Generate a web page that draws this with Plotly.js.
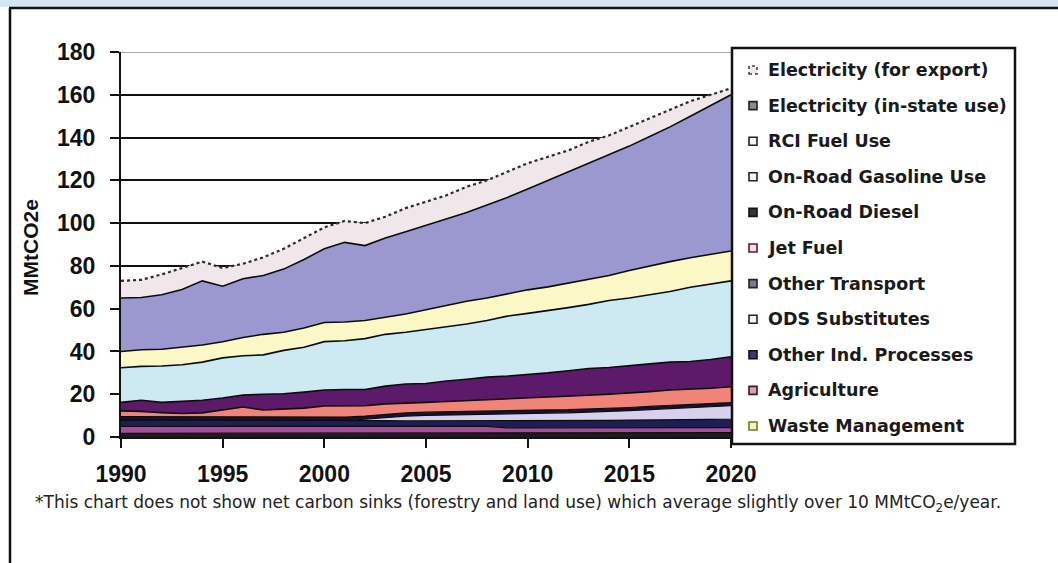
<!DOCTYPE html>
<html>
<head>
<meta charset="utf-8">
<script src="https://cdn.plot.ly/plotly-3.0.1.min.js"></script>
<style>
  html, body { margin: 0; padding: 0; background: #ffffff; }
  #chart { width: 1058px; height: 563px; }
</style>
</head>
<body>
<div id="chart"></div>
<script>
// Emissions by sector, MMtCO2e, 1990-2020 (stacked from the bottom up)
const years = [1990, 1991, 1992, 1993, 1994, 1995, 1996, 1997, 1998, 1999, 2000,
               2001, 2002, 2003, 2004, 2005, 2006, 2007, 2008, 2009, 2010,
               2011, 2012, 2013, 2014, 2015, 2016, 2017, 2018, 2019, 2020];

const wasteManagement = [1.7, 1.7, 1.7, 1.7, 1.7, 1.7, 1.7, 1.8, 1.8, 1.8, 1.8,
                         1.8, 1.8, 1.8, 1.8, 1.8, 1.8, 1.8, 1.8, 1.9, 1.9,
                         1.9, 1.9, 1.9, 1.9, 1.9, 1.9, 1.9, 2.0, 2.0, 2.0];
const agriculture = [3.2, 3.2, 3.2, 3.2, 3.2, 3.2, 3.2, 3.2, 3.2, 3.2, 3.2,
                     3.2, 3.2, 3.2, 3.2, 3.2, 3.2, 3.2, 3.2, 2.4, 2.4,
                     2.4, 2.4, 2.4, 2.4, 2.4, 2.4, 2.4, 2.4, 2.4, 2.4];
const otherIndProcesses = [3.1, 3.1, 3.1, 3.0, 3.0, 3.0, 3.0, 3.0, 2.9, 2.9, 2.8,
                           2.8, 2.7, 2.7, 2.6, 2.6, 2.6, 2.7, 2.8, 3.2, 3.3,
                           3.4, 3.4, 3.5, 3.5, 3.6, 3.6, 3.7, 3.7, 3.8, 3.9];
const odsSubstitutes = [0, 0, 0, 0, 0, 0, 0, 0, 0, 0, 0,
                        0, 0.6, 1.4, 2.2, 2.5, 2.7, 2.9, 3.1, 3.3, 3.4,
                        3.5, 3.6, 3.8, 4.0, 4.4, 4.9, 5.3, 5.6, 5.9, 6.3];
const otherTransport = [1.5, 1.5, 1.5, 1.5, 1.5, 1.5, 1.5, 1.5, 1.5, 1.5, 1.5,
                        1.5, 1.5, 1.5, 1.5, 1.5, 1.5, 1.5, 1.5, 1.5, 1.5,
                        1.5, 1.5, 1.5, 1.5, 1.5, 1.5, 1.5, 1.5, 1.5, 1.5];
const jetFuel = [2.7, 2.5, 1.9, 1.6, 1.9, 3.1, 4.6, 3.1, 3.6, 4.1, 5.2,
                 5.2, 4.8, 4.9, 4.7, 4.6, 4.8, 4.9, 4.9, 5.3, 5.5,
                 5.8, 6.2, 6.4, 6.7, 6.7, 6.9, 7.2, 7.1, 7.2, 7.4];
const onRoadDiesel = [4.0, 5.2, 4.8, 5.6, 5.9, 5.7, 5.6, 7.4, 7.2, 7.5, 7.5,
                      7.7, 7.6, 8.3, 8.8, 8.8, 9.6, 10.0, 10.7, 10.9, 11.2,
                      11.5, 12.0, 12.5, 12.5, 12.7, 13.0, 13.0, 13.0, 13.4, 14.0];
const onRoadGasoline = [16.2, 15.8, 17.0, 17.2, 17.8, 18.8, 18.4, 18.4, 20.3, 21.0, 22.6,
                        22.8, 23.8, 24.2, 24.2, 25.3, 25.4, 25.8, 26.5, 28.0, 28.6,
                        29.0, 29.5, 30.0, 31.3, 31.8, 32.3, 33.0, 34.7, 35.3, 35.5];
const rciFuelUse = [7.6, 7.8, 7.8, 8.2, 8.0, 7.5, 8.5, 9.6, 8.5, 9.0, 8.9,
                    8.8, 8.5, 8.0, 8.5, 9.2, 9.9, 10.7, 10.5, 10.5, 11.0,
                    11.2, 11.5, 12.0, 11.7, 12.8, 13.5, 14.0, 13.8, 14.0, 14.0];
const electricityInState = [25.0, 24.4, 25.5, 27.0, 30.0, 26.0, 27.5, 27.5, 29.5, 32.0, 34.5,
                            37.2, 35.0, 37.0, 38.5, 39.5, 40.5, 41.5, 43.5, 45.0, 47.2,
                            49.8, 52.0, 54.0, 56.5, 58.2, 60.5, 63.0, 66.2, 69.5, 73.0];
const electricityExport = [8.0, 8.3, 9.5, 10.0, 9.0, 8.5, 7.0, 8.5, 9.5, 10.0, 10.0,
                           10.0, 10.5, 10.0, 11.0, 11.0, 11.0, 12.0, 11.5, 12.0, 12.0,
                           11.0, 10.0, 10.0, 9.0, 9.0, 8.5, 8.0, 7.0, 5.0, 3.0];

const xTicks = [1990, 1995, 2000, 2005, 2010, 2015, 2020];
const yTicks = [0, 20, 40, 60, 80, 100, 120, 140, 160, 180];

// Series drawn bottom to top
const series = [
  { name: 'Waste Management',          y: wasteManagement,    color: '#1c1c1c', mark: '#eef5c8', edge: '#6b7d1e' },
  { name: 'Agriculture',               y: agriculture,        color: '#a84c9e', mark: '#d9a0b8', edge: '#3a1a2a' },
  { name: 'Other Ind. Processes',      y: otherIndProcesses,  color: '#1e1e52', mark: '#3a3a6a', edge: '#111' },
  { name: 'ODS Substitutes',           y: odsSubstitutes,     color: '#d6d2ee', mark: '#f4f4f4', edge: '#222' },
  { name: 'Other Transport',           y: otherTransport,     color: '#1a1230', mark: '#7a7a8a', edge: '#222' },
  { name: 'Jet Fuel',                  y: jetFuel,            color: '#f08478', mark: '#f4e0e4', edge: '#5a1a2a' },
  { name: 'On-Road Diesel',            y: onRoadDiesel,       color: '#5e1a6a', mark: '#333333', edge: '#111' },
  { name: 'On-Road Gasoline Use',      y: onRoadGasoline,     color: '#cdeaf3', mark: '#f4f4f4', edge: '#222' },
  { name: 'RCI Fuel Use',              y: rciFuelUse,         color: '#fbf8c6', mark: '#f4f4f4', edge: '#222' },
  { name: 'Electricity (in-state use)',y: electricityInState, color: '#9a98cf', mark: '#8a8a9a', edge: '#222' },
  { name: 'Electricity (for export)',  y: electricityExport,  color: '#f1e6ea', mark: '#f1e6ea', edge: '#444', dotted: true }
];

const font = 'Arial, "Liberation Sans", Helvetica, sans-serif';
const wideFont = '"DejaVu Sans", Verdana, sans-serif';

const traces = series.map((s, i) => ({
  type: 'scatter',
  mode: 'lines',
  name: s.name,
  x: years,
  y: s.y,
  stackgroup: 'total',
  fillcolor: s.color,
  line: {
    color: s.dotted ? '#2a2a2a' : '#0c0c0c',
    width: s.dotted ? 2.2 : (i < 5 ? 1.2 : 1.6),
    dash: s.dotted ? 'dot' : 'solid'
  },
  hoverinfo: 'x+y+name',
  showlegend: false
}));

// pixel -> paper helpers for the plot frame (plot area 121..731 x 52..437)
const L = 121, T = 52, W = 610, H = 385;
const px = x => (x - L) / W;
const py = y => (T + H - y) / H;

const shapes = [];
const annotations = [];

// page frame
shapes.push({ type: 'rect', xref: 'paper', yref: 'paper', x0: px(-5), x1: px(1065), y0: py(-5), y1: py(7),
              fillcolor: '#d3e6f3', line: { width: 0 }, layer: 'below' });
shapes.push({ type: 'line', xref: 'paper', yref: 'paper', x0: px(9), x1: px(1065), y0: py(8), y1: py(8),
              line: { color: '#111', width: 2.5 } });
shapes.push({ type: 'line', xref: 'paper', yref: 'paper', x0: px(10), x1: px(10), y0: py(8), y1: py(570),
              line: { color: '#111', width: 2.5 } });

// light top gridline
shapes.push({ type: 'line', xref: 'paper', yref: 'y', x0: 0, x1: px(732), y0: 180, y1: 180,
              line: { color: '#a8a8a8', width: 2 } });

// legend box
const legTop = 48, legBottom = 444, legLeft = 732, legRight = 1015;
shapes.push({ type: 'rect', xref: 'paper', yref: 'paper', x0: px(legLeft), x1: px(legRight),
              y0: py(legBottom), y1: py(legTop), fillcolor: '#ffffff', line: { color: '#111', width: 2.5 } });

const legendOrder = series.slice().reverse();
const rowStart = 70, rowStep = 35.6;
legendOrder.forEach((s, i) => {
  const cy = rowStart + i * rowStep;
  shapes.push({ type: 'rect', xref: 'paper', yref: 'paper',
                x0: px(749), x1: px(757), y0: py(cy + 4), y1: py(cy - 4),
                fillcolor: s.mark, line: { color: s.edge, width: 1.6, dash: s.dotted ? 'dot' : 'solid' } });
  annotations.push({ xref: 'paper', yref: 'paper', x: px(766), y: py(cy), xanchor: 'left', yanchor: 'middle',
                     text: s.name, showarrow: false,
                     font: { family: wideFont, size: 17.5, color: '#1a1a1a', weight: 'bold' } });
});

// y-axis title
annotations.push({ xref: 'paper', yref: 'paper', x: px(31), y: py(248), xanchor: 'center', yanchor: 'middle',
                   text: 'MMtCO2e', textangle: -90, showarrow: false,
                   font: { family: font, size: 21, color: '#111', weight: 'bold' } });

// footnote
annotations.push({ xref: 'paper', yref: 'paper', x: px(33), y: py(503), xanchor: 'left', yanchor: 'middle',
                   showarrow: false,
                   text: '*This chart does not show net carbon sinks (forestry and land use) which average slightly over 10 MMtCO<sub>2</sub>e/year.',
                   font: { family: wideFont, size: 17, color: '#222' } });

const layout = {
  width: 1058,
  height: 563,
  margin: { l: L, r: 1058 - L - W, t: T, b: 563 - T - H, pad: 0 },
  paper_bgcolor: '#ffffff',
  plot_bgcolor: '#ffffff',
  showlegend: false,
  font: { family: font, color: '#111' },
  xaxis: {
    range: [1990, 2020],
    tickvals: xTicks,
    ticktext: xTicks.map(String),
    showgrid: false,
    zeroline: false,
    showline: true,
    linecolor: '#111',
    linewidth: 2,
    ticks: 'outside',
    ticklen: 9,
    tickwidth: 2,
    tickcolor: '#111',
    ticklabelstandoff: 6,
    tickfont: { family: font, size: 23, color: '#111', weight: 'bold' }
  },
  yaxis: {
    range: [0, 180],
    tickvals: yTicks,
    ticktext: yTicks.map(String),
    showgrid: true,
    gridcolor: '#111',
    gridwidth: 2,
    zeroline: false,
    showline: true,
    linecolor: '#111',
    linewidth: 2,
    ticks: 'outside',
    ticklen: 9,
    tickwidth: 2,
    tickcolor: '#111',
    ticklabelstandoff: 10,
    tickfont: { family: font, size: 23, color: '#111', weight: 'bold' }
  },
  shapes: shapes,
  annotations: annotations
};

Plotly.newPlot('chart', traces, layout, { displayModeBar: false, staticPlot: true });
</script>
</body>
</html>
